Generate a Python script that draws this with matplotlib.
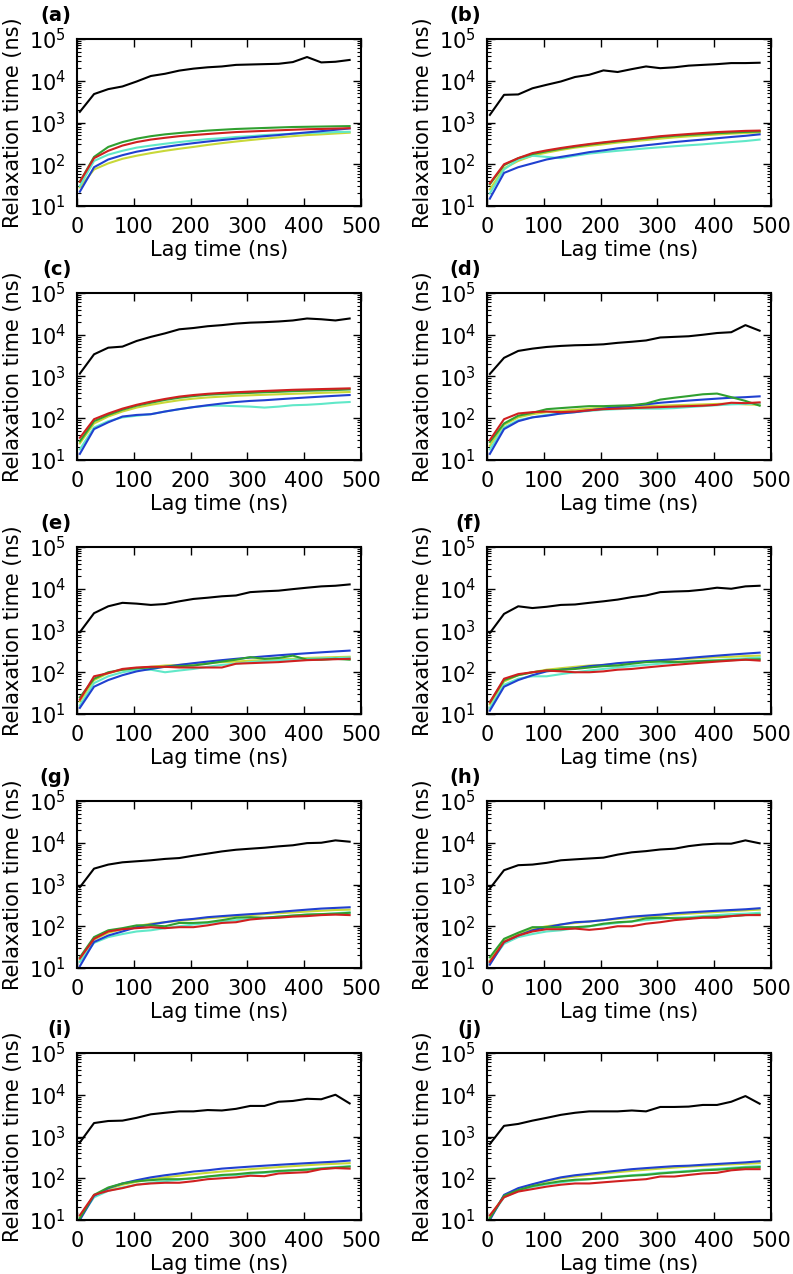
import numpy as np
import matplotlib
matplotlib.use('Agg')
import matplotlib.pyplot as plt
from matplotlib.ticker import LogLocator, NullFormatter

# lag times (ns)
lag = [5, 30, 55, 80, 105, 130, 155, 180, 205, 230, 255, 280, 305, 330, 355, 380, 405, 430, 455, 480]

# (a)
black_a = [1800, 4800, 6300, 7300, 9600, 13000, 14700, 17500, 19500, 21000, 22000, 24000, 24500, 25000, 25500, 28000, 37000, 27500, 28500, 31500]
green_a = [38, 150, 260, 340, 410, 470, 520, 560, 600, 640, 670, 700, 720, 740, 760, 780, 790, 800, 810, 820]
red_a = [38, 140, 210, 280, 340, 390, 430, 470, 500, 530, 560, 590, 610, 630, 650, 670, 690, 700, 715, 730]
cyan_a = [30, 120, 170, 210, 250, 280, 310, 340, 370, 400, 420, 450, 470, 500, 520, 540, 560, 570, 590, 600]
blue_a = [22, 85, 130, 165, 200, 230, 260, 290, 320, 350, 380, 410, 440, 470, 500, 540, 580, 620, 670, 720]
yellow_a = [28, 75, 105, 135, 160, 185, 210, 235, 260, 290, 320, 350, 380, 410, 440, 470, 500, 520, 545, 570]

# (b)
black_b = [1520, 4600, 4700, 6600, 8000, 9600, 12300, 13900, 17700, 16200, 19000, 22000, 20000, 21000, 23000, 24000, 25000, 26500, 26500, 27000]
green_b = [33, 95, 140, 175, 205, 235, 265, 295, 325, 355, 385, 415, 450, 480, 505, 530, 555, 575, 595, 610]
red_b = [35, 100, 140, 185, 215, 245, 275, 305, 335, 365, 395, 430, 470, 500, 530, 560, 590, 610, 630, 640]
cyan_b = [20, 75, 130, 160, 150, 140, 160, 180, 195, 210, 225, 240, 255, 270, 285, 300, 320, 340, 360, 390]
blue_b = [15, 62, 85, 105, 130, 150, 170, 195, 215, 240, 260, 285, 310, 340, 365, 390, 420, 450, 480, 520]
yellow_b = [25, 80, 120, 160, 190, 220, 250, 275, 300, 330, 355, 380, 410, 440, 465, 490, 515, 540, 560, 580]

# (c)
black_c = [1170, 3400, 4900, 5200, 7100, 8900, 10800, 13500, 14500, 16000, 17000, 18500, 19500, 20000, 20800, 22000, 24500, 23500, 22000, 24500]
green_c = [28, 85, 120, 160, 200, 235, 275, 310, 340, 365, 380, 395, 405, 420, 430, 445, 455, 465, 475, 490]
red_c = [34, 95, 130, 170, 210, 250, 290, 330, 360, 385, 405, 420, 435, 450, 465, 480, 490, 500, 510, 520]
cyan_c = [18, 60, 85, 105, 115, 125, 145, 165, 185, 200, 200, 195, 190, 180, 190, 205, 210, 220, 235, 245]
blue_c = [14, 55, 80, 110, 120, 125, 145, 165, 185, 205, 225, 245, 260, 270, 285, 300, 315, 330, 345, 360]
yellow_c = [25, 75, 110, 145, 180, 210, 240, 270, 295, 315, 330, 345, 355, 365, 375, 385, 395, 405, 415, 425]

# (d)
black_d = [1150, 2800, 4100, 4650, 5100, 5400, 5600, 5700, 5900, 6400, 6800, 7300, 8600, 8900, 9200, 10000, 11000, 11500, 17000, 12500]
green_d = [27, 75, 115, 135, 165, 175, 185, 195, 195, 200, 205, 225, 280, 310, 340, 375, 390, 320, 260, 200]
red_d = [30, 95, 130, 140, 145, 140, 145, 155, 165, 170, 175, 180, 185, 190, 195, 200, 210, 235, 230, 240]
cyan_d = [18, 60, 90, 105, 120, 130, 140, 150, 160, 165, 170, 170, 170, 175, 185, 195, 205, 215, 220, 225]
blue_d = [14, 55, 85, 105, 115, 130, 140, 155, 170, 185, 200, 215, 235, 250, 265, 280, 295, 310, 320, 335]
yellow_d = [22, 70, 105, 125, 140, 150, 160, 170, 178, 185, 190, 195, 200, 205, 210, 215, 220, 225, 215, 210]

# (e)
black_e = [910, 2600, 3800, 4600, 4400, 4100, 4300, 5000, 5700, 6100, 6600, 6900, 8300, 8700, 9000, 9800, 10600, 11400, 11800, 12700]
green_e = [25, 70, 100, 115, 125, 130, 135, 140, 145, 160, 180, 200, 230, 210, 220, 250, 200, 200, 210, 200]
red_e = [22, 80, 95, 120, 130, 135, 135, 130, 130, 130, 130, 160, 165, 170, 175, 185, 195, 200, 205, 210]
cyan_e = [16, 55, 80, 100, 115, 115, 100, 110, 120, 135, 150, 160, 175, 185, 195, 200, 210, 215, 220, 225]
blue_e = [14, 45, 65, 85, 105, 120, 135, 150, 165, 180, 195, 210, 225, 240, 255, 270, 285, 300, 315, 330]
yellow_e = [20, 65, 95, 115, 125, 135, 145, 150, 160, 165, 175, 180, 190, 195, 205, 210, 220, 225, 230, 235]

# (f)
black_f = [870, 2500, 3800, 3450, 3700, 4100, 4200, 4600, 5000, 5500, 6300, 6900, 8300, 8600, 8800, 9500, 10600, 10000, 11400, 11800]
green_f = [19, 65, 85, 100, 110, 115, 120, 130, 140, 145, 160, 175, 180, 175, 180, 185, 190, 195, 200, 205]
red_f = [19, 70, 90, 100, 110, 105, 100, 100, 105, 115, 120, 130, 140, 150, 160, 170, 180, 190, 200, 190]
cyan_f = [14, 50, 70, 80, 80, 90, 100, 110, 120, 130, 140, 150, 160, 170, 180, 190, 195, 205, 215, 225]
blue_f = [12, 45, 65, 85, 105, 115, 125, 140, 150, 165, 175, 185, 195, 205, 220, 235, 250, 265, 280, 295]
yellow_f = [17, 60, 85, 100, 115, 125, 135, 145, 150, 160, 170, 180, 190, 200, 210, 220, 230, 235, 245, 250]

# (g)
black_g = [860, 2400, 3000, 3400, 3600, 3800, 4100, 4300, 4900, 5500, 6200, 6800, 7200, 7600, 8200, 8700, 9800, 10000, 11400, 10600]
green_g = [18, 55, 80, 90, 105, 105, 100, 120, 120, 125, 140, 160, 165, 160, 170, 180, 190, 195, 200, 210]
red_g = [17, 50, 75, 85, 90, 95, 90, 95, 95, 105, 120, 125, 145, 155, 160, 170, 175, 185, 190, 185]
cyan_g = [14, 40, 55, 65, 75, 80, 90, 100, 110, 120, 130, 140, 150, 160, 170, 180, 190, 195, 205, 215]
blue_g = [11, 42, 60, 75, 95, 110, 125, 140, 150, 165, 175, 185, 195, 205, 220, 235, 250, 265, 275, 285]
yellow_g = [16, 48, 70, 85, 100, 115, 125, 135, 145, 155, 165, 175, 185, 195, 205, 215, 225, 235, 245, 250]

# (h)
black_h = [800, 2200, 2900, 3000, 3300, 3800, 4000, 4200, 4400, 5200, 5900, 6300, 6900, 7200, 8300, 9100, 9500, 9500, 11400, 9700]
green_h = [18, 50, 70, 95, 95, 95, 95, 100, 115, 125, 130, 155, 160, 155, 155, 165, 170, 175, 185, 190]
red_h = [14, 42, 60, 75, 85, 85, 88, 82, 88, 100, 100, 115, 125, 140, 150, 160, 160, 175, 185, 185]
cyan_h = [13, 38, 55, 65, 75, 80, 90, 100, 110, 120, 130, 140, 150, 160, 165, 175, 185, 195, 200, 210]
blue_h = [12, 42, 60, 80, 95, 110, 125, 130, 140, 155, 170, 180, 190, 205, 215, 225, 235, 245, 255, 270]
yellow_h = [15, 45, 65, 85, 100, 110, 120, 130, 140, 150, 160, 170, 180, 190, 200, 210, 220, 230, 240, 250]

# (i)
black_i = [720, 2100, 2350, 2400, 2800, 3400, 3700, 4000, 4000, 4300, 4200, 4600, 5400, 5400, 6800, 7100, 8000, 7800, 10000, 6200]
green_i = [11, 40, 60, 75, 85, 90, 95, 95, 100, 110, 120, 125, 135, 140, 150, 155, 160, 170, 180, 190]
red_i = [13, 40, 50, 58, 70, 75, 78, 78, 85, 95, 100, 105, 115, 112, 130, 135, 140, 165, 175, 170]
cyan_i = [11, 35, 50, 60, 70, 78, 85, 92, 100, 110, 115, 120, 128, 135, 145, 155, 165, 175, 185, 195]
blue_i = [10, 38, 58, 75, 90, 105, 118, 130, 145, 155, 170, 180, 190, 200, 210, 220, 230, 240, 250, 265]
yellow_i = [12, 38, 55, 70, 82, 95, 105, 115, 125, 135, 145, 155, 165, 175, 185, 195, 205, 215, 222, 230]

# (j)
black_j = [660, 1800, 2000, 2400, 2800, 3300, 3700, 4000, 4000, 4000, 4200, 4000, 5100, 5100, 5200, 5700, 5700, 6800, 9300, 6100]
green_j = [11, 38, 52, 65, 75, 85, 92, 95, 100, 108, 115, 120, 130, 138, 145, 155, 160, 170, 180, 185]
red_j = [13, 35, 48, 55, 63, 70, 75, 75, 80, 85, 90, 95, 110, 110, 120, 130, 135, 155, 165, 165]
cyan_j = [11, 35, 50, 62, 72, 80, 88, 95, 102, 110, 118, 125, 135, 142, 150, 160, 168, 178, 188, 195]
blue_j = [10, 40, 58, 72, 88, 105, 118, 128, 140, 152, 165, 175, 185, 195, 200, 210, 220, 230, 240, 255]
yellow_j = [12, 38, 55, 70, 85, 100, 110, 120, 130, 140, 150, 160, 170, 180, 190, 198, 206, 215, 222, 230]

panel_labels = ['(a)', '(b)', '(c)', '(d)', '(e)', '(f)', '(g)', '(h)', '(i)', '(j)']
panels = [
    (black_a, yellow_a, cyan_a, blue_a, green_a, red_a),
    (black_b, yellow_b, cyan_b, blue_b, green_b, red_b),
    (black_c, yellow_c, cyan_c, blue_c, green_c, red_c),
    (black_d, yellow_d, cyan_d, blue_d, green_d, red_d),
    (black_e, yellow_e, cyan_e, blue_e, green_e, red_e),
    (black_f, yellow_f, cyan_f, blue_f, green_f, red_f),
    (black_g, yellow_g, cyan_g, blue_g, green_g, red_g),
    (black_h, yellow_h, cyan_h, blue_h, green_h, red_h),
    (black_i, yellow_i, cyan_i, blue_i, green_i, red_i),
    (black_j, yellow_j, cyan_j, blue_j, green_j, red_j),
]
line_colors = ['black', '#c8d838', '#60e8c8', '#2040d0', '#30a030', '#d02020']

W, H = 793, 1274
fig = plt.figure(figsize=(W / 100, H / 100), dpi=100)

col_left = [77, 487]
row_top = [39, 293, 547, 801, 1053]
ax_w, ax_h = 284, 167

for k, series in enumerate(panels):
    r, c = k // 2, k % 2
    left = col_left[c] / W
    bottom = 1 - (row_top[r] + ax_h) / H
    ax = fig.add_axes([left, bottom, ax_w / W, ax_h / H])
    for vals, col in zip(series, line_colors):
        ax.plot(lag, vals, color=col, linewidth=1.5)
    ax.set_yscale('log')
    ax.set_xlim(0, 500)
    ax.set_ylim(10, 1e5)
    ax.set_xticks([0, 100, 200, 300, 400, 500])
    ax.yaxis.set_major_locator(LogLocator(base=10, numticks=10))
    ax.yaxis.set_minor_locator(LogLocator(base=10, subs=np.arange(2, 10), numticks=10))
    ax.yaxis.set_minor_formatter(NullFormatter())
    ax.tick_params(which='both', direction='in', top=True, right=True, labelsize=15)
    ax.tick_params(which='major', length=6, width=1, pad=8)
    ax.tick_params(which='minor', length=3, width=0.8)
    for sp in ax.spines.values():
        sp.set_linewidth(1.5)
    ax.set_xlabel('Lag time (ns)', fontsize=15, labelpad=2)
    ax.set_ylabel('Relaxation time (ns)', fontsize=15, labelpad=4)
    ax.text(-0.02, 1.14, panel_labels[k], transform=ax.transAxes,
            ha='right', va='center', fontsize=14, fontweight='bold')

fig.savefig('out.png', dpi=100)
